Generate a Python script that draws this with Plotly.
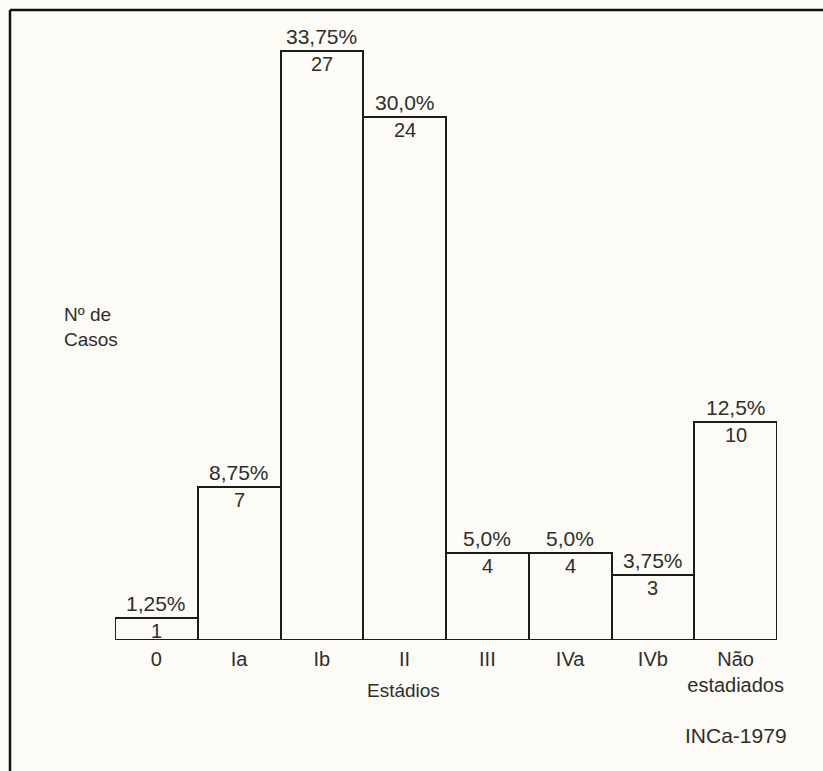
import plotly.graph_objects as go

# Case counts by tumour stage
stages = ["0", "Ia", "Ib", "II", "III", "IVa", "IVb", "Não<br>estadiados"]
cases = [1, 7, 27, 24, 4, 4, 3, 10]
percents = ["1,25%", "8,75%", "33,75%", "30,0%", "5,0%", "5,0%", "3,75%", "12,5%"]

W, H = 823, 771
L, R, T, B = 115, 46, 20, 131
PW, PH = W - L - R, H - T - B
PX_PER_CASE = 21.8

INK = "#2e2e2e"
PAPER = "#fcfbf5"
FONT = "Liberation Sans, Arial, Helvetica, sans-serif"


def px_x(px):
    return (px - L) / PW


def px_y(py):
    return (H - B - py) / PH


xs = list(range(len(stages)))

fig = go.Figure(
    go.Bar(
        x=xs,
        y=cases,
        width=1.0,
        marker=dict(color=PAPER, line=dict(color="#1c1c1c", width=2)),
        hoverinfo="skip",
    )
)

annotations = []
for x, n, p in zip(xs, cases, percents):
    annotations.append(dict(x=x, y=n, xref="x", yref="y", text=p, showarrow=False,
                            yanchor="bottom", yshift=1,
                            font=dict(size=21, color=INK, family=FONT)))
    annotations.append(dict(x=x, y=n, xref="x", yref="y", text=str(n), showarrow=False,
                            yanchor="top", yshift=0,
                            font=dict(size=20, color=INK, family=FONT)))

annotations += [
    dict(x=px_x(62), y=px_y(302), xref="paper", yref="paper", text="Nº de<br>Casos",
         showarrow=False, xanchor="left", yanchor="top", align="left",
         font=dict(size=19, color=INK, family=FONT)),
    dict(x=px_x(403), y=px_y(690), xref="paper", yref="paper", text="Estádios",
         showarrow=False, xanchor="center", yanchor="middle",
         font=dict(size=19, color=INK, family=FONT)),
    dict(x=px_x(789), y=px_y(735), xref="paper", yref="paper", text="INCa-1979",
         showarrow=False, xanchor="right", yanchor="middle",
         font=dict(size=21, color=INK, family=FONT)),
]

# Frame around the figure (left and top edges)
shapes = [
    dict(type="line", xref="paper", yref="paper", x0=px_x(10), x1=px_x(W + 5),
         y0=px_y(10), y1=px_y(10), line=dict(color="#111", width=2.5)),
    dict(type="line", xref="paper", yref="paper", x0=px_x(10), x1=px_x(10),
         y0=px_y(10), y1=px_y(H + 5), line=dict(color="#111", width=2.5)),
]

fig.update_layout(
    width=W, height=H,
    margin=dict(l=L, r=R, t=T, b=B),
    paper_bgcolor=PAPER, plot_bgcolor=PAPER,
    showlegend=False,
    bargap=0,
    xaxis=dict(range=[-0.5, len(stages) - 0.5], tickvals=xs, ticktext=stages,
               showgrid=False, zeroline=False, showline=False, ticks="",
               ticklabelstandoff=5,
               tickfont=dict(size=20, color=INK, family=FONT), fixedrange=True),
    yaxis=dict(range=[0, PH / PX_PER_CASE], visible=False, showgrid=False,
               zeroline=False, fixedrange=True),
    annotations=annotations,
    shapes=shapes,
)

fig.write_html("out.html")
